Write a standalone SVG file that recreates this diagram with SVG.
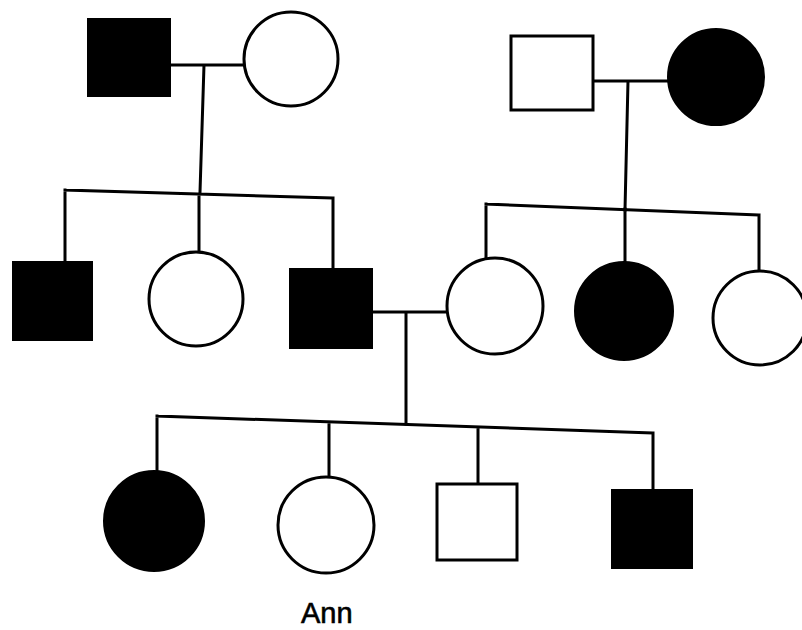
<svg xmlns="http://www.w3.org/2000/svg" width="802" height="630" viewBox="0 0 802 630">
<style>
.l{stroke:#000;stroke-width:3;fill:none;stroke-linecap:square}
.o{fill:#fff;stroke:#000;stroke-width:3}
.f{fill:#000;stroke:#000;stroke-width:2}
.t{font-family:"Liberation Sans",Arial,sans-serif;font-size:29px;fill:#000}
</style>
<rect width="802" height="630" fill="#fff"/>
<g id="connectors">
<path class="l" d="M170 65H243M204 65L200 192"/>
<path class="l" d="M65 190L333 198M65 190V262M199 194V252M333 198V269"/>
<path class="l" d="M593 81H667M628 81L625 210"/>
<path class="l" d="M486 204L759 215M486 204V259M625 209V263M759 215V270"/>
<path class="l" d="M372 312H445M406 312V424"/>
<path class="l" d="M157 416L653 433M157 416V473M329 422V478M478 427V484M653 433V490"/>
</g>
<g id="g1-father"><rect class="f" x="88" y="19" width="82" height="77"/></g>
<g id="g1-mother"><circle class="o" cx="291" cy="59" r="47"/></g>
<g id="g1b-father"><rect class="o" x="511" y="36" width="82" height="74"/></g>
<g id="g1b-mother"><circle class="f" cx="716" cy="77" r="48"/></g>
<g id="g2-son1"><rect class="f" x="13" y="262" width="79" height="78"/></g>
<g id="g2-daughter1"><circle class="o" cx="196" cy="299" r="47"/></g>
<g id="g2-son2"><rect class="f" x="290" y="269" width="82" height="79"/></g>
<g id="g2-daughter2"><circle class="o" cx="495" cy="306" r="48"/></g>
<g id="g2-daughter3"><circle class="f" cx="624" cy="311" r="49"/></g>
<g id="g2-daughter4"><circle class="o" cx="760" cy="318" r="47"/></g>
<g id="g3-daughter1"><circle class="f" cx="154" cy="521" r="50"/></g>
<g id="g3-ann"><circle class="o" cx="326" cy="525" r="48"/><text class="t" x="301" y="623" style="stroke:#000;stroke-width:0.6">Ann</text></g>
<g id="g3-son1"><rect class="o" x="437" y="484" width="80" height="76"/></g>
<g id="g3-son2"><rect class="f" x="612" y="490" width="80" height="78"/></g>
</svg>
